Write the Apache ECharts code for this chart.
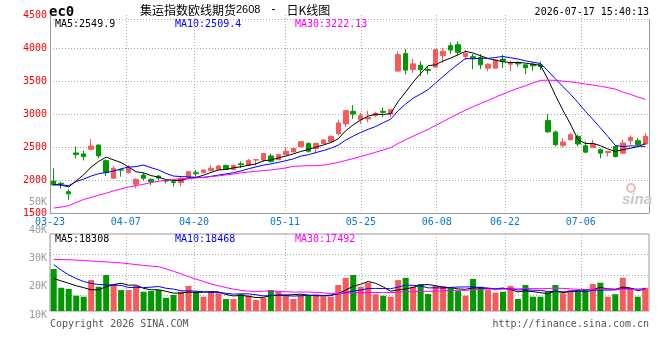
<!DOCTYPE html>
<html>
<head>
<meta charset="utf-8">
<script src="https://cdn.jsdelivr.net/npm/echarts@6/dist/echarts.min.js"></script>
<style>
  html, body { margin: 0; padding: 0; background: #fff; }
  #chart { width: 660px; height: 360px; }
</style>
</head>
<body>
<div id="chart"></div>
<script>
// trading days 03-23 .. 07-17
const dates = [
  '03-23','03-24','03-25','03-26','03-27','03-30','03-31','04-01','04-02','04-03',
  '04-07','04-08','04-09','04-10','04-13','04-14','04-15','04-16','04-17','04-20',
  '04-21','04-22','04-23','04-24','04-27','04-28','04-29','04-30','05-06','05-07',
  '05-08','05-11','05-12','05-13','05-14','05-15','05-18','05-19','05-20','05-21',
  '05-22','05-25','05-26','05-27','05-28','05-29','06-01','06-02','06-03','06-04',
  '06-05','06-08','06-09','06-10','06-11','06-12','06-15','06-16','06-17','06-18',
  '06-22','06-23','06-24','06-25','06-26','06-29','06-30','07-01','07-02','07-03',
  '07-06','07-07','07-08','07-09','07-10','07-13','07-14','07-15','07-16','07-17'
];
const dateTicks = ['03-23', '04-07', '04-20', '05-11', '05-25', '06-08', '06-22', '07-06'];

const opens = [
  1985,1950,1823,2410,2395,2465,2530,2293,2025,2155,
  2111,1935,2075,2010,2060,1990,1975,1960,2036,2111,
  2111,2141,2162,2220,2160,2246,2220,2303,2307,2364,
  2307,2384,2425,2502,2554,2477,2554,2580,2700,2850,
  3040,2915,2925,2975,3040,3000,3650,3915,3675,3740,
  3675,3710,3885,4035,4050,3870,3868,3857,3695,3695,
  3832,3755,3780,3745,3755,3745,2900,2727,2525,2610,
  2660,2519,2493,2458,2417,2509,2407,2595,2595,2544
];
const closes = [
  1925,1940,1790,2385,2355,2515,2365,2110,2177,2150,
  2177,2010,2025,1975,2030,1985,1962,2025,2126,2095,
  2152,2177,2212,2160,2220,2232,2297,2307,2400,2282,
  2384,2436,2477,2580,2436,2554,2605,2660,2865,3050,
  3000,2975,2950,3010,3025,3065,3900,3665,3760,3675,
  3660,3975,3950,3970,3935,3920,3845,3745,3755,3817,
  3800,3780,3760,3700,3730,3720,2730,2535,2575,2687,
  2545,2422,2544,2407,2432,2356,2560,2646,2535,2660
];
const lows = [
  1910,1870,1700,2330,2295,2460,2330,2060,2020,2050,
  2100,1875,2000,1925,2000,1950,1900,1900,2020,2050,
  2100,2130,2150,2150,2145,2180,2215,2220,2270,2260,
  2300,2375,2420,2495,2415,2400,2545,2560,2675,2800,
  2925,2850,2875,2950,2950,2950,3650,3600,3625,3575,
  3600,3700,3775,3910,3885,3817,3680,3680,3645,3690,
  3695,3645,3715,3603,3655,3665,2710,2510,2495,2595,
  2510,2407,2483,2330,2356,2340,2392,2534,2510,2534
];
const highs = [
  2177,1975,1860,2505,2445,2620,2535,2313,2212,2165,
  2227,2025,2110,2025,2075,2010,1990,2040,2130,2152,
  2160,2227,2230,2235,2235,2282,2323,2310,2410,2400,
  2400,2502,2492,2590,2570,2570,2620,2675,2915,3050,
  3135,3015,3050,3035,3100,3065,3950,3985,3835,3800,
  3725,3980,4000,4085,4100,3970,3910,3908,3765,3832,
  3900,3806,3795,3745,3780,3795,3000,2750,2635,2712,
  2687,2585,2610,2473,2442,2524,2610,2677,2636,2712
];

const ma5 = [
  1930,1925,1895,1988,2079,2197,2282,2346,2304,2263,
  2196,2125,2108,2067,2043,2005,1995,1995,2026,2039,
  2072,2115,2152,2159,2184,2200,2224,2243,2291,2304,
  2334,2362,2396,2432,2463,2497,2530,2567,2624,2747,
  2836,2910,2968,2997,2992,3005,3190,3333,3483,3613,
  3732,3747,3804,3846,3898,3950,3924,3883,3840,3816,
  3792,3779,3782,3771,3754,3738,3528,3283,3058,2849,
  2614,2553,2555,2521,2470,2432,2460,2480,2506,2550
];
const ma10 = [
  1930,1925,1915,1975,2015,2060,2095,2115,2135,2171,
  2196,2203,2227,2186,2153,2100,2060,2052,2047,2041,
  2039,2055,2074,2092,2111,2136,2170,2198,2225,2244,
  2267,2293,2320,2362,2383,2415,2446,2481,2528,2605,
  2666,2720,2768,2811,2869,2921,3050,3151,3240,3303,
  3369,3469,3569,3665,3756,3841,3836,3844,3843,3857,
  3871,3852,3833,3806,3785,3765,3654,3533,3415,3302,
  3176,3040,2919,2790,2660,2523,2506,2517,2513,2509
];
const ma30 = [
  1575,1590,1610,1660,1705,1735,1770,1800,1835,1865,
  1895,1915,1935,1960,1980,2000,2008,2015,2022,2030,
  2040,2052,2062,2077,2090,2107,2120,2132,2143,2152,
  2167,2184,2207,2213,2216,2217,2225,2244,2266,2296,
  2324,2356,2387,2421,2455,2491,2555,2610,2664,2717,
  2767,2827,2885,2945,3003,3059,3111,3158,3204,3255,
  3302,3347,3390,3427,3470,3509,3513,3509,3499,3487,
  3472,3454,3440,3420,3400,3377,3332,3298,3257,3222
];

const volumes = [
  34900,19300,18300,12700,11900,25700,20200,29900,22400,17400,
  17400,20800,16000,16600,17400,11000,13300,16000,20800,16000,
  11900,16000,14700,10000,10000,14100,12700,9100,11000,17400,
  16000,13300,10000,13300,13300,13900,11900,11900,21600,27600,
  29900,20200,23500,13900,12700,11900,25700,27600,20200,22400,
  14100,20800,20800,19300,16600,12700,26600,20200,17400,15200,
  16000,20800,10000,21600,11900,11900,16000,21600,14700,17400,
  16000,18300,22400,23500,11900,13900,27600,18800,11900,19300
];
const volMa5 = [
  27000,25000,23000,21000,19420,17580,17760,20080,22020,23120,
  21460,21580,18800,17640,17640,16360,14860,14860,15700,15420,
  15600,16140,15880,13720,12520,12960,12300,11180,11380,12860,
  13240,13360,13540,14000,13180,12760,12480,12860,14520,17380,
  20580,22240,24560,23020,20040,16440,17540,18360,19620,21560,
  22000,21020,19660,19480,18320,18040,19200,19080,18700,18420,
  19080,17920,15880,16720,16060,15240,14280,16600,15220,16320,
  17140,17600,17760,19520,18420,18000,19860,19140,16820,18300
];
const volMa10 = [
  38500,34000,30000,27000,24500,23000,22000,21800,21500,21270,
  19520,19670,19440,19830,20380,18910,18220,16830,16670,16530,
  15980,15500,15370,14710,13970,14280,14220,13530,12550,12690,
  13100,12830,12360,12690,13020,13000,12920,13200,14260,15280,
  16670,17360,18710,18770,18710,18510,19890,21460,21320,20800,
  19220,19280,19010,19550,19940,20020,20110,19370,19090,18370,
  18560,18560,17480,17710,17240,17160,16100,16240,15970,16190,
  16190,15940,17180,17370,17370,17570,18730,18450,18170,18360
];
const volMa30 = [
  42900,42800,42600,42300,42000,41500,41200,40800,40400,40000,
  39300,38600,37900,37300,36800,35000,33000,31000,28500,26500,
  24500,22500,21000,19500,18200,17200,16500,16200,16400,16830,
  16200,16000,15720,15740,15790,15400,15120,14520,14490,14830,
  15250,15230,15480,15390,15230,15260,15680,16060,16040,16260,
  16330,16490,16690,17000,17220,17180,17640,18010,18220,18150,
  18150,18400,18400,18680,18630,18560,18700,19020,18790,18450,
  17990,17930,17890,18210,18180,18250,18310,18020,17740,17640
];

const RED = '#f65a5a';
const GREEN = '#009a00';
const MONO = 'DejaVu Sans Mono';

const kData = opens.map((o, i) => [o, closes[i], lows[i], highs[i]]);
const volData = volumes.map((v, i) => ({
  value: v,
  itemStyle: { color: closes[i] >= opens[i] ? RED : GREEN }
}));

const isTick = (i, v) => dateTicks.indexOf(v) >= 0;
const dotted = { show: true, lineStyle: { color: '#aaa', type: [1, 2], width: 1 } };

function maLine(name, data, color, xi, yi) {
  return {
    name, type: 'line', data, xAxisIndex: xi, yAxisIndex: yi,
    showSymbol: false, symbol: 'none', z: 5,
    lineStyle: { color, width: 1 }
  };
}

function txt(x, y, text, color, extra) {
  return {
    type: 'text', x, y, silent: true,
    style: Object.assign({
      text, fill: color, font: '10px "' + MONO + '"', textVerticalAlign: 'middle'
    }, extra || {})
  };
}

const chart = echarts.init(document.getElementById('chart'));
chart.setOption({
  animation: false,
  backgroundColor: '#fff',
  grid: [
    { left: 50, width: 599, top: 15, height: 198 },
    { left: 50, width: 599, top: 234, height: 77, show: true, borderColor: '#999', borderWidth: 1 },
    { left: 50, width: 599, top: 202, height: 113 }
  ],
  xAxis: [
    { type: 'category', gridIndex: 0, position: 'top', data: dates, boundaryGap: true, show: false },
    {
      type: 'category', gridIndex: 0, position: 'bottom', data: dates, boundaryGap: false,
      axisLine: { lineStyle: { color: '#999' } },
      axisTick: { show: false },
      axisLabel: { interval: isTick, color: '#0a78d2', fontFamily: MONO, fontSize: 10, margin: 4 },
      splitLine: Object.assign({ interval: isTick }, dotted)
    },
    { type: 'category', gridIndex: 1, position: 'top', data: dates, boundaryGap: true, show: false },
    {
      type: 'category', gridIndex: 1, position: 'bottom', data: dates, boundaryGap: false,
      axisLine: { show: false }, axisTick: { show: false }, axisLabel: { show: false },
      splitLine: Object.assign({ interval: isTick }, dotted)
    },
    { type: 'value', gridIndex: 2, show: false }
  ],
  yAxis: [
    {
      type: 'value', gridIndex: 0, min: 1500, max: 4500, interval: 500,
      axisLine: { show: true, lineStyle: { color: '#999' } },
      axisTick: { show: false },
      axisLabel: { color: '#ff0000', fontFamily: MONO, fontSize: 10, margin: 3, formatter: v => String(v) },
      splitLine: Object.assign({ showMaxLine: false, showMinLine: false }, dotted)
    },
    { type: 'value', gridIndex: 1, min: 0, max: 64000, show: false },
    {
      type: 'value', gridIndex: 1, min: 0, max: 3.75, interval: 1, inverse: true,
      axisLine: { show: false }, axisTick: { show: false }, axisLabel: { show: false },
      splitLine: Object.assign({ showMinLine: false, showMaxLine: false }, dotted)
    },
    {
      type: 'value', gridIndex: 2, min: 10000, max: 50000, interval: 10000,
      axisLine: { show: false }, axisTick: { show: false }, splitLine: { show: false },
      axisLabel: {
        color: '#999', fontFamily: MONO, fontSize: 10, margin: 3,
        formatter: v => (v / 1000) + 'K'
      }
    }
  ],
  series: [
    {
      name: 'K', type: 'candlestick', data: kData, xAxisIndex: 0, yAxisIndex: 0,
      barWidth: 5,
      itemStyle: { color: RED, color0: GREEN, borderColor: RED, borderColor0: GREEN, borderWidth: 1 }
    },
    maLine('MA5', ma5, '#000000', 0, 0),
    maLine('MA10', ma10, '#0000ff', 0, 0),
    maLine('MA30', ma30, '#ff00ff', 0, 0),
    { name: 'VOL', type: 'bar', data: volData, xAxisIndex: 2, yAxisIndex: 1, barWidth: 6 },
    maLine('VMA5', volMa5, '#000000', 2, 1),
    maLine('VMA10', volMa10, '#0000ff', 2, 1),
    maLine('VMA30', volMa30, '#ff00ff', 2, 1)
  ],
  graphic: [
    { type: 'line', silent: true, shape: { x1: 50, y1: 19.5, x2: 649, y2: 19.5 },
      style: { stroke: '#aaa', lineDash: [1, 2], lineWidth: 1 } },
    { type: 'line', silent: true, shape: { x1: 649.5, y1: 19, x2: 649.5, y2: 213 },
      style: { stroke: '#999', lineWidth: 1 } },
    txt(49, 12, 'ec0', '#000', { font: 'bold 14px "' + MONO + '"' }),
    {
      type: 'text', x: 140, y: 10, silent: true,
      style: {
        text: '{a|集运指数欧线期货}{b|2608}{c| - }{a|日K线图}',
        textVerticalAlign: 'middle',
        rich: {
          a: { fontFamily: 'Noto Sans CJK SC', fontSize: 12, color: '#000' },
          b: { fontFamily: 'Liberation Sans', fontSize: 11, color: '#666' },
          c: { fontFamily: 'Liberation Sans', fontSize: 12, color: '#000', width: 26, align: 'center' }
        }
      }
    },
    txt(649, 12, '2026-07-17 15:40:13', '#000', { textAlign: 'right' }),
    txt(55, 24, 'MA5:2549.9', '#000'),
    txt(175, 24, 'MA10:2509.4', '#0000ff'),
    txt(295, 24, 'MA30:3222.13', '#ff00ff'),
    txt(55, 239.5, 'MA5:18308', '#000'),
    txt(175, 239.5, 'MA10:18468', '#0000ff'),
    txt(295, 239.5, 'MA30:17492', '#ff00ff'),
    txt(50, 324, 'Copyright 2026 SINA.COM', '#555'),
    txt(649, 324, 'http://finance.sina.com.cn', '#555', { textAlign: 'right' }),
    { type: 'circle', silent: true, shape: { cx: 631, cy: 188, r: 4 },
      style: { fill: 'none', stroke: '#f2b8b8', lineWidth: 2 } },
    txt(652, 200, 'sina', '#c8c8c8', { textAlign: 'right', font: 'italic bold 15px "Liberation Sans"' })
  ]
});
</script>
</body>
</html>
